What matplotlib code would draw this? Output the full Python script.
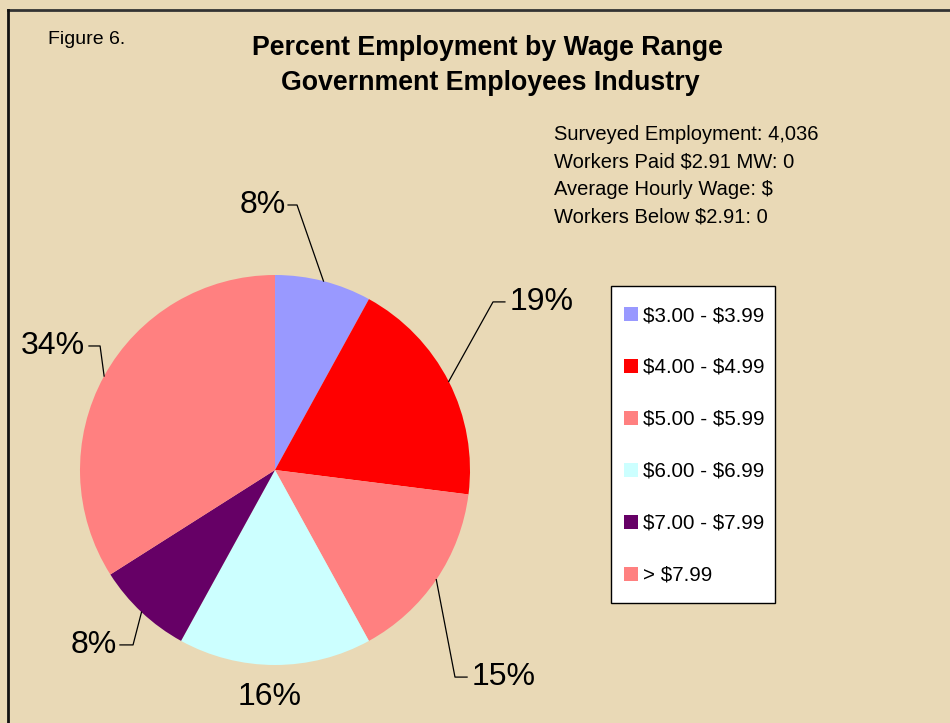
import matplotlib
matplotlib.use("Agg")
import matplotlib.pyplot as plt
from matplotlib.patches import Patch, Rectangle
from matplotlib.lines import Line2D
import numpy as np

plt.rcParams['font.family'] = ['Liberation Sans', 'DejaVu Sans']
plt.rcParams['text.parse_math'] = False

# data
wage_ranges = ["$3.00 - $3.99", "$4.00 - $4.99", "$5.00 - $5.99",
               "$6.00 - $6.99", "$7.00 - $7.99", "> $7.99"]
percents = [8, 19, 15, 16, 8, 34]
slice_colors = ["#9999FF", "#FF0000", "#FF8080", "#CCFFFF", "#660066", "#FF8080"]
info_lines = ["Surveyed Employment: 4,036",
              "Workers Paid $2.91 MW: 0",
              "Average Hourly Wage: $",
              "Workers Below $2.91: 0"]

W, H = 950, 723
bg = "#E9D9B6"

fig = plt.figure(figsize=(W / 100, H / 100), dpi=100, facecolor=bg)

# frame lines (top and left)
fig.add_artist(Line2D([8 / W, 1], [1 - 10 / H, 1 - 10 / H], color="#333333", lw=2))
fig.add_artist(Line2D([8 / W, 8 / W], [0, 1 - 10 / H], color="#111111", lw=2))

# pie axes: centre (275, 470), radius 195 px
cx, cy, r = 275, 470, 195
ax = fig.add_axes([(cx - r) / W, 1 - (cy + r) / H, 2 * r / W, 2 * r / H])
ax.set_facecolor("none")
wedges, _ = ax.pie(percents, colors=slice_colors, startangle=90, counterclock=False,
                   wedgeprops=dict(linewidth=0))
ax.set_xlim(-1, 1)
ax.set_ylim(-1, 1)
ax.set_aspect("equal")
ax.axis("off")

# label layout: (elbow x, elbow y, line end x, text x, ha) in pie-radius units
label_layout = [
    (0.113, 1.359, 0.067, 0.055, "right"),
    (1.118, 0.862, 1.179, 1.205, "left"),
    (0.923, -1.062, 0.985, 1.010, "left"),
    None,
    (-0.728, -0.897, -0.795, -0.810, "right"),
    (-0.897, 0.636, -0.954, -0.975, "right"),
]

for w, p, lay in zip(wedges, percents, label_layout):
    mid = np.deg2rad((w.theta1 + w.theta2) / 2)
    sx, sy = np.cos(mid), np.sin(mid)
    if lay is None:
        ax.text(-0.026, -1.165, f"{p}%", ha="center", va="center", fontsize=23,
                clip_on=False)
        continue
    ex, ey, lx, tx, ha = lay
    ax.plot([sx, ex, lx], [sy, ey, ey], color="black", lw=0.9, clip_on=False)
    ax.text(tx, ey, f"{p}%", ha=ha, va="center", fontsize=23, clip_on=False)

# titles
fig.text(48 / W, 1 - 40 / H, "Figure 6.", fontsize=14, ha="left", va="center")
fig.text(487 / W, 1 - 48 / H, "Percent Employment by Wage Range",
         fontsize=19.3, fontweight="bold", ha="center", va="center")
fig.text(490 / W, 1 - 83 / H, "Government Employees Industry",
         fontsize=19.3, fontweight="bold", ha="center", va="center")

for i, line in enumerate(info_lines):
    fig.text(554 / W, 1 - (135 + 27.2 * i) / H, line, fontsize=14.5,
             ha="left", va="center")

# legend box drawn by hand, entries by fig.legend without frame
fig.add_artist(Rectangle((611 / W, 1 - 603 / H), 164 / W, 317 / H,
                         transform=fig.transFigure, facecolor="white",
                         edgecolor="black", lw=1.0, zorder=2))
handles = [Patch(facecolor=c, edgecolor="none") for c in slice_colors]
leg = fig.legend(handles, wage_ranges, loc="upper left",
                 bbox_to_anchor=(624 / W, 1 - 306 / H), fontsize=14.8,
                 frameon=False, borderpad=0, labelspacing=1.605,
                 handlelength=0.68, handleheight=0.68,
                 handletextpad=0.24, borderaxespad=0)
leg.set_zorder(3)

fig.savefig("out.png", dpi=100, facecolor=bg)
